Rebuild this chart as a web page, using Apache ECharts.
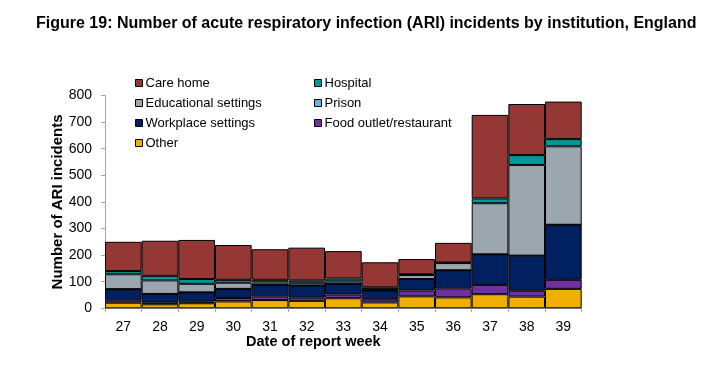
<!DOCTYPE html>
<html>
<head>
<meta charset="utf-8">
<script src="https://cdn.jsdelivr.net/npm/echarts@6/dist/echarts.min.js"></script>
<style>
html,body{margin:0;padding:0;background:#fff;}
#chart{width:720px;height:373px;}
</style>
</head>
<body>
<div id="chart"></div>
<script>
const weeks = ['27','28','29','30','31','32','33','34','35','36','37','38','39'];
const other       = [21, 15, 19, 26, 31, 28, 38, 22, 45, 41, 53, 44, 73];
const foodOutlet  = [ 9,  6,  6, 13, 14, 12, 14, 12, 22, 34, 35, 22, 34];
const workplace   = [42, 33, 35, 34, 43, 46, 40, 33, 43, 68,115,132,207];
const prison      = [ 0,  0,  0,  0,  0,  0,  0,  0,  0,  0,  0,  0,  0];
const educational = [56, 51, 32, 23,  9, 10,  9,  5, 15, 27,192,341,295];
const hospital    = [12, 17, 18, 11, 10,  9, 11,  7,  3,  2, 18, 37, 27];
const careHome    = [110,132,147,131,115,123,103, 94, 57, 74,314,192,141];
const yTicks = [0,100,200,300,400,500,600,700,800];

const FONT = "'Liberation Sans', Arial, sans-serif";
const colors = {
  'Care home': '#953735',
  'Hospital': '#009999',
  'Educational settings': '#9CA6AF',
  'Prison': '#66B3F0',
  'Workplace settings': '#002060',
  'Food outlet/restaurant': '#7030A0',
  'Other': '#F0AE00'
};
const seriesDefs = [
  ['Other', other],
  ['Food outlet/restaurant', foodOutlet],
  ['Workplace settings', workplace],
  ['Prison', prison],
  ['Educational settings', educational],
  ['Hospital', hospital],
  ['Care home', careHome]
];

const legendCommon = {
  orient: 'vertical',
  top: 71,
  itemWidth: 7,
  itemHeight: 7,
  itemGap: 6,
  icon: 'rect',
  textStyle: {fontFamily: FONT, fontSize: 13, color: '#000', lineHeight: 14, padding: [0,0,0,-2]},
  itemStyle: {borderColor: '#000', borderWidth: 1}
};

const chart = echarts.init(document.getElementById('chart'), null, {renderer: 'canvas'});
chart.setOption({
  animation: false,
  backgroundColor: '#fff',
  title: {
    text: 'Figure 19: Number of acute respiratory infection (ARI) incidents by institution, England',
    left: 31, top: 11,
    textStyle: {fontFamily: FONT, fontSize: 16, fontWeight: 'bold', color: '#000'}
  },
  legend: [
    Object.assign({}, legendCommon, {left: 130, data: ['Care home','Educational settings','Workplace settings','Other']}),
    Object.assign({}, legendCommon, {left: 309, data: ['Hospital','Prison','Food outlet/restaurant']})
  ],
  grid: {left: 105, top: 95.5, width: 476.7, height: 212.8, containLabel: false},
  xAxis: {
    type: 'category',
    data: weeks,
    name: 'Date of report week',
    nameLocation: 'middle',
    nameGap: 26,
    nameMoveOverlap: false,
    nameTextStyle: {fontFamily: FONT, fontSize: 14.5, fontWeight: 'bold', color: '#000', padding: [0, 60, 0, 0]},
    axisLine: {lineStyle: {color: '#A6A6A6', width: 1}},
    axisTick: {show: true, alignWithLabel: false, length: 4, lineStyle: {color: '#A6A6A6'}},
    axisLabel: {fontFamily: FONT, fontSize: 14, color: '#000', margin: 12}
  },
  yAxis: {
    type: 'value',
    min: 0, max: 800, interval: 100,
    name: 'Number of ARI incidents',
    nameLocation: 'middle',
    nameGap: 40,
    nameMoveOverlap: false,
    nameTextStyle: {fontFamily: FONT, fontSize: 15, fontWeight: 'bold', color: '#000'},
    axisLine: {show: true, lineStyle: {color: '#A6A6A6', width: 1}},
    axisTick: {show: true, length: 4, lineStyle: {color: '#A6A6A6'}},
    axisLabel: {fontFamily: FONT, fontSize: 14, color: '#000', margin: 13,
      formatter: v => yTicks.includes(v) ? String(v) : ''},
    splitLine: {show: false}
  },
  series: seriesDefs.map(([name, vals]) => ({
    name: name,
    type: 'bar',
    stack: 'total',
    barCategoryGap: '0%',
    data: vals,
    itemStyle: {color: colors[name], borderColor: '#000', borderWidth: 1}
  }))
});
</script>
</body>
</html>
